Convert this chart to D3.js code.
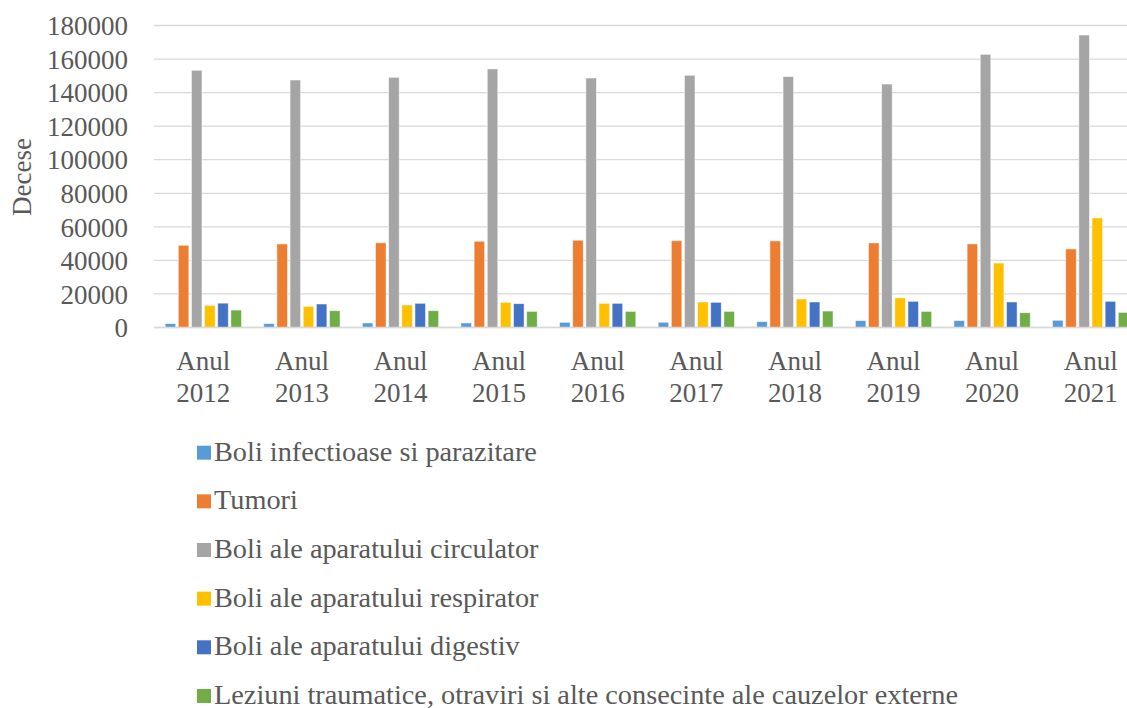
<!DOCTYPE html>
<html>
<head>
<meta charset="utf-8">
<script src="https://cdn.jsdelivr.net/npm/d3@7"></script>
<style>
  html, body { margin: 0; padding: 0; background: #fff; }
  svg { display: block; }
  text { font-family: "Liberation Serif", "DejaVu Serif", serif; fill: #595959; }
</style>
</head>
<body>
<svg id="chart" width="1127" height="708"></svg>
<script>
// Categories (years) and series of deaths by cause
const years = ["2012", "2013", "2014", "2015", "2016", "2017", "2018", "2019", "2020", "2021"];
const seriesNames = [
  "Boli infectioase si parazitare",
  "Tumori",
  "Boli ale aparatului circulator",
  "Boli ale aparatului respirator",
  "Boli ale aparatului digestiv",
  "Leziuni traumatice, otraviri si alte consecinte ale cauzelor externe"
];
const seriesColors = ["#5B9BD5", "#ED7D31", "#A5A5A5", "#FFC000", "#4472C4", "#70AD47"];

const infectioase = [2300, 2300, 2700, 2700, 3100, 3100, 3500, 4100, 4100, 4300];
const tumori      = [49000, 49800, 50500, 51400, 52000, 51700, 51600, 50400, 49800, 46800];
const circulator  = [153300, 147500, 149100, 154100, 148700, 150300, 149500, 145100, 162800, 174300];
const respirator  = [13200, 12600, 13400, 15000, 14400, 15200, 17000, 17600, 38400, 65300];
const digestiv    = [14500, 14000, 14400, 14200, 14400, 15000, 15200, 15600, 15200, 15600];
const leziuni     = [10400, 10000, 10000, 9600, 9600, 9600, 9800, 9600, 8800, 9000];

const yTicks = [0, 20000, 40000, 60000, 80000, 100000, 120000, 140000, 160000, 180000];
const yTitle = "Decese";
const xPrefix = "Anul";

const seriesValues = [infectioase, tumori, circulator, respirator, digestiv, leziuni];

const FONT = "Liberation Serif, DejaVu Serif, serif";
const svg = d3.select("#chart");

const plot = { left: 154, right: 1140, top: 25.5, bottom: 327.5 };

const x0 = d3.scaleBand().domain(years).range([plot.left, plot.right])
  .paddingInner(0.2).paddingOuter(0.1);
const x1 = d3.scaleBand().domain(d3.range(seriesNames.length)).range([0, x0.bandwidth()])
  .paddingInner(0.2).paddingOuter(0.1);
const y = d3.scaleLinear().domain([0, 180000]).range([plot.bottom, plot.top]);

// Horizontal gridlines
svg.append("g").selectAll("line").data(yTicks).join("line")
  .attr("x1", plot.left).attr("x2", plot.right)
  .attr("y1", d => y(d)).attr("y2", d => y(d))
  .attr("stroke", "#d9d9d9").attr("stroke-width", 1.3);

// Y axis tick labels
const yAxis = d3.axisLeft(y).tickValues(yTicks).tickSize(0).tickPadding(0).tickFormat(d3.format("d"));
const gy = svg.append("g").attr("transform", "translate(128,0)").call(yAxis)
  .attr("font-family", FONT);
gy.select(".domain").remove();
gy.selectAll("text").attr("font-size", 27).attr("fill", "#595959")
  .attr("font-family", FONT).attr("dy", "0.34em");

// Y axis title
svg.append("text")
  .attr("transform", "translate(31,177) rotate(-90)")
  .attr("text-anchor", "middle")
  .attr("font-family", FONT)
  .attr("font-size", 27)
  .text(yTitle);

// Bars
const groups = svg.append("g").selectAll("g").data(years).join("g")
  .attr("transform", d => `translate(${x0(d)},0)`);
groups.selectAll("rect")
  .data((d, i) => seriesValues.map((vals, s) => ({ s, v: vals[i] })))
  .join("rect")
  .attr("x", d => x1(d.s))
  .attr("width", x1.bandwidth())
  .attr("y", d => y(d.v))
  .attr("height", d => plot.bottom - y(d.v))
  .attr("fill", d => seriesColors[d.s])
  .attr("stroke", "#ffffff").attr("stroke-opacity", 0.6).attr("stroke-width", 0.8);

// X axis baseline
svg.append("line")
  .attr("x1", plot.left).attr("x2", plot.right)
  .attr("y1", plot.bottom).attr("y2", plot.bottom)
  .attr("stroke", "#d9d9d9").attr("stroke-width", 1.3);

// X axis labels (two lines)
const xl = svg.append("g").selectAll("text").data(years).join("text")
  .attr("text-anchor", "middle")
  .attr("font-family", FONT)
  .attr("font-size", 27)
  .attr("x", d => x0(d) + x0.bandwidth() / 2);
xl.append("tspan").attr("x", d => x0(d) + x0.bandwidth() / 2).attr("y", 370).text(xPrefix);
xl.append("tspan").attr("x", d => x0(d) + x0.bandwidth() / 2).attr("y", 402).text(d => d);

// Legend
const legend = svg.append("g").selectAll("g").data(seriesNames).join("g")
  .attr("transform", (d, i) => `translate(197,${460.7 + i * 48.65})`);
legend.append("rect")
  .attr("x", 0).attr("y", -15).attr("width", 14).attr("height", 14)
  .attr("fill", (d, i) => seriesColors[i]);
legend.append("text")
  .attr("x", 17).attr("y", 0)
  .attr("font-family", FONT)
  .attr("font-size", 28.3)
  .text(d => d);
</script>
</body>
</html>
